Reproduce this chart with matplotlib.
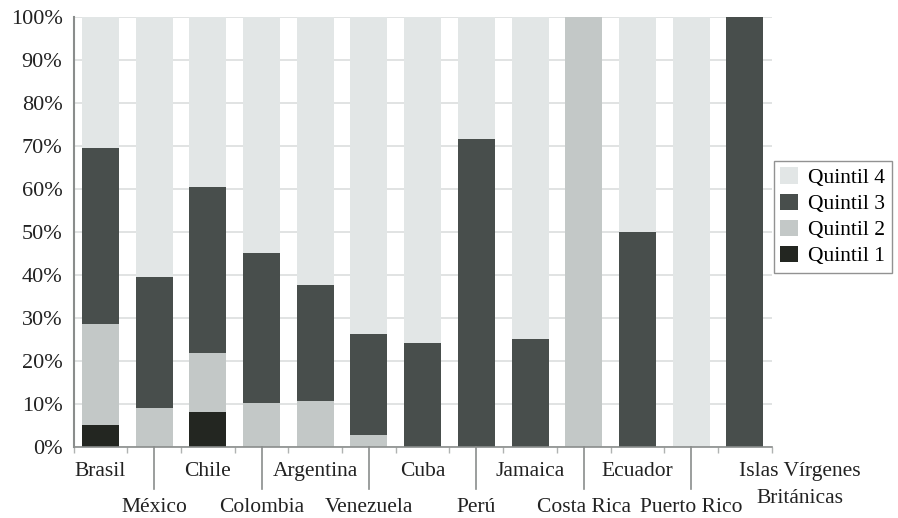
import matplotlib
matplotlib.use("Agg")
import matplotlib.pyplot as plt
import matplotlib.transforms as mtransforms
from matplotlib.patches import Patch
import numpy as np

countries = ["Brasil", "México", "Chile", "Colombia", "Argentina", "Venezuela", "Cuba",
             "Perú", "Jamaica", "Costa Rica", "Ecuador", "Puerto Rico",
             "Islas Vírgenes\nBritánicas"]
q1 = [5.1, 0.0, 8.1, 0.0, 0.0, 0.0, 0.0, 0.0, 0.0, 0.0, 0.0, 0.0, 0.0]
q2 = [23.5, 9.1, 13.8, 10.2, 10.7, 2.8, 0.0, 0.0, 0.0, 100.0, 0.0, 0.0, 0.0]
q3 = [40.9, 30.4, 38.6, 34.9, 27.0, 23.5, 24.2, 71.6, 25.1, 0.0, 50.0, 0.0, 100.0]
q4 = [30.5, 60.5, 39.5, 54.9, 62.3, 73.7, 75.8, 28.4, 74.9, 0.0, 50.0, 100.0, 0.0]
series_names = ["Quintil 1", "Quintil 2", "Quintil 3", "Quintil 4"]
yticks = [0, 10, 20, 30, 40, 50, 60, 70, 80, 90, 100]

colors = ["#232621", "#c3c8c7", "#484e4c", "#e2e6e6"]

plt.rcParams['font.family'] = ['Liberation Serif', 'DejaVu Serif']

W, H = 898, 518
fig = plt.figure(figsize=(W / 100, H / 100), dpi=100)
ax = fig.add_axes([73.6 / W, 1 - 447 / H, (771.7 - 73.6) / W, (447 - 17) / H])

x = np.arange(len(countries))
bottom = np.zeros(len(countries))
for vals, c in zip([q1, q2, q3, q4], colors):
    ax.bar(x, vals, bottom=bottom, width=0.69, color=c, zorder=2)
    bottom += np.array(vals)

ax.set_xlim(-0.5, len(countries) - 0.5)
ax.set_ylim(0, 100)
ax.set_yticks(yticks)
ax.set_yticklabels([f"{v}%" for v in yticks], fontsize=16, color="#222222")
ax.yaxis.grid(True, color="#dcdede", linewidth=1.2, zorder=0)
ax.tick_params(axis='y', length=0, pad=8)

for s in ["top", "right"]:
    ax.spines[s].set_visible(False)
ax.spines["left"].set_color("#8a8d8c")
ax.spines["left"].set_linewidth(1.5)
ax.spines["bottom"].set_color("#8a8d8c")
ax.spines["bottom"].set_linewidth(1.2)
ax.spines["bottom"].set_zorder(3)

# category boundary minor ticks
ax.set_xticks(np.arange(-0.5, len(countries), 1.0))
ax.set_xticklabels([])
ax.tick_params(axis='x', length=4, color="#b0b3b2", width=1)

trans = mtransforms.blended_transform_factory(ax.transData, ax.transAxes)
upper_y = -0.058
lower_y = -0.14
for i, name in enumerate(countries):
    if i % 2 == 0:
        if '\n' in name:
            xi = i + 1.03
            for k, part in enumerate(name.split('\n')):
                ax.text(xi, upper_y - k * 0.061, part, transform=trans, ha='center',
                        va='center', fontsize=15.5, color="#222222")
        else:
            ax.text(i, upper_y, name, transform=trans, ha='center', va='center',
                    fontsize=15.5, color="#222222")
    else:
        ax.plot([i, i], [0, -0.098], transform=trans, color="#8a8d8c", linewidth=1.2,
                clip_on=False)
        ax.text(i, lower_y, name, transform=trans, ha='center', va='center',
                fontsize=15.5, color="#222222")

handles = [Patch(facecolor=c, edgecolor='none') for c in colors]
leg = fig.legend(handles[::-1], series_names[::-1], loc='upper left',
                 bbox_to_anchor=(774 / W, 1 - 161 / H), fontsize=15.5,
                 frameon=True, fancybox=False, borderpad=0.3, labelspacing=0.25,
                 handlelength=0.8, handleheight=0.8, handletextpad=0.5,
                 borderaxespad=0)
leg.get_frame().set_edgecolor("#777777")
leg.get_frame().set_linewidth(1.0)

fig.savefig("out.png", dpi=100)
